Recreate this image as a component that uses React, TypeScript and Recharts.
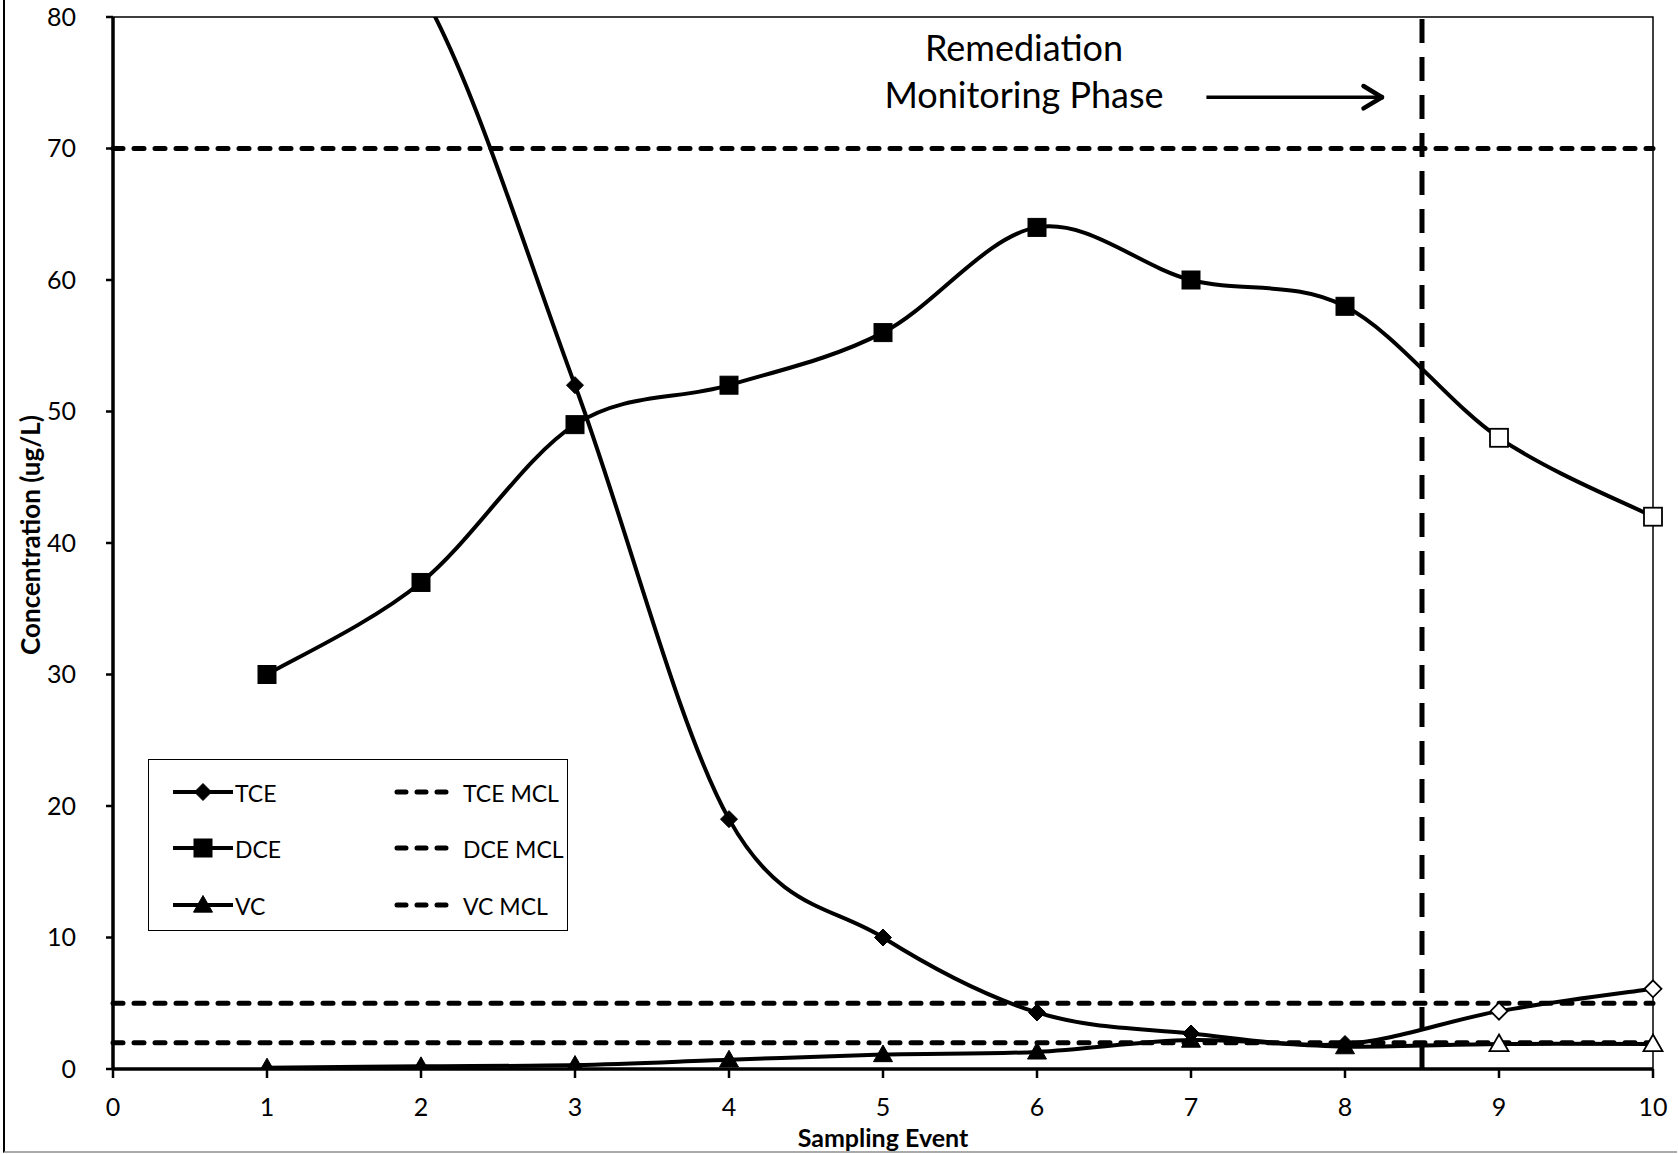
import { LineChart, Line, XAxis, YAxis, ReferenceLine, ReferenceArea, Legend, Label } from 'recharts';

// sampling events and measured concentrations (ug/L)
const events = [1, 2, 3, 4, 5, 6, 7, 8, 9, 10];
const tce = [92, 82, 52, 19, 10, 4.3, 2.7, 1.9, 4.4, 6.1];
const dce = [30, 37, 49, 52, 56, 64, 60, 58, 48, 42];
const vc = [0.1, 0.2, 0.3, 0.7, 1.1, 1.3, 2.2, 1.7, 1.9, 1.9];

const seriesNames = ['TCE', 'DCE', 'VC'];
const mclNames = ['TCE MCL', 'DCE MCL', 'VC MCL'];
const mclValues = [5, 70, 2];

const xTicks = [0, 1, 2, 3, 4, 5, 6, 7, 8, 9, 10];
const yTicks = [0, 10, 20, 30, 40, 50, 60, 70, 80];

// monitoring phase starts between event 8 and 9, markers after it are open
const monitoringStart = 8.5;
const firstMonitoringEvent = 9;
const arrowFrom = { x: 7.1, y: 73.9 };
const arrowTo = { x: 8.24, y: 73.9 };

const data = events.map((event, i) => ({ event, TCE: tce[i], DCE: dce[i], VC: vc[i] }));

const FONT = 'Lato, "Open Sans", sans-serif';
type Kind = 'diamond' | 'square' | 'triangle';
const kinds: Kind[] = ['diamond', 'square', 'triangle'];

// Excel style smoothing (uniform Catmull-Rom as bezier segments)
function excelSmooth(context: any) {
	let pts: number[][] = [];
	return {
		areaStart() {},
		areaEnd() {},
		lineStart() {
			pts = [];
		},
		point(x: number, y: number) {
			pts.push([+x, +y]);
		},
		lineEnd() {
			if (!pts.length) return;
			context.moveTo(pts[0][0], pts[0][1]);
			for (let i = 0; i < pts.length - 1; i++) {
				const p0 = pts[i - 1] ?? pts[i];
				const p1 = pts[i];
				const p2 = pts[i + 1];
				const p3 = pts[i + 2] ?? p2;
				context.bezierCurveTo(
					p1[0] + (p2[0] - p0[0]) / 6,
					p1[1] + (p2[1] - p0[1]) / 6,
					p2[0] - (p3[0] - p1[0]) / 6,
					p2[1] - (p3[1] - p1[1]) / 6,
					p2[0],
					p2[1]
				);
			}
		},
	};
}

function Marker({ kind, x, y, open }: { kind: Kind; x: number; y: number; open?: boolean }) {
	const fill = open ? '#fff' : '#000';
	const sw = open ? 1.8 : 1;
	if (kind === 'diamond') {
		const r = 8.5;
		return <polygon points={`${x},${y - r} ${x + r},${y} ${x},${y + r} ${x - r},${y}`} fill={fill} stroke='#000' strokeWidth={sw} />;
	}
	if (kind === 'square') {
		const h = 9;
		return <rect x={x - h} y={y - h} width={h * 2} height={h * 2} fill={fill} stroke='#000' strokeWidth={sw} />;
	}
	const s = 9.5;
	return <polygon points={`${x},${y - s} ${x + s},${y + s * 0.75} ${x - s},${y + s * 0.75}`} fill={fill} stroke='#000' strokeWidth={sw} />;
}

const makeDot = (kind: Kind) => (props: any) => {
	const { cx, cy, index, payload } = props;
	if (cx == null || cy == null || cy < 0) return <g key={`d-${kind}-${index}`} />;
	return (
		<g key={`d-${kind}-${index}`}>
			<Marker kind={kind} x={cx} y={cy} open={payload.event >= firstMonitoringEvent} />
		</g>
	);
};

function ChartLegend() {
	const rowY = [32, 88, 145];
	return (
		<div style={{ width: 420, height: 172, border: '1.5px solid #000', background: '#fff', boxSizing: 'border-box', position: 'relative' }}>
			<svg width={420} height={172} style={{ position: 'absolute', left: 0, top: 0 }}>
				{seriesNames.map((name, i) => (
					<g key={name}>
						<line x1={24} x2={84} y1={rowY[i]} y2={rowY[i]} stroke='#000' strokeWidth={4} />
						<Marker kind={kinds[i]} x={54} y={rowY[i]} />
						<text x={86} y={rowY[i] + 1} dominantBaseline='central' fontFamily={FONT} fontSize={23} fill='#000'>
							{name}
						</text>
					</g>
				))}
				{mclNames.map((name, i) => (
					<g key={name}>
						<line x1={248} x2={304} y1={rowY[i]} y2={rowY[i]} stroke='#000' strokeWidth={5} strokeDasharray='9 11' strokeLinecap='round' />
						<text x={314} y={rowY[i] + 1} dominantBaseline='central' fontFamily={FONT} fontSize={23} fill='#000'>
							{name}
						</text>
					</g>
				))}
			</svg>
		</div>
	);
}

export default function App() {
	return (
		<div style={{ position: 'absolute', left: 0, top: 0, width: 1678, height: 1154, background: '#fff' }}>
			<div style={{ position: 'absolute', left: 3, top: 0, width: 1672, height: 1151, borderLeft: '2px solid #000', borderBottom: '2px solid #aaa' }} />
			<LineChart width={1678} height={1154} data={data} margin={{ top: 17, right: 25, left: 0, bottom: 0 }}>
				<XAxis
					dataKey='event'
					type='number'
					domain={[0, 10]}
					ticks={xTicks}
					height={85}
					axisLine={{ stroke: '#000', strokeWidth: 3.5 }}
					tickLine={{ stroke: '#000', strokeWidth: 2.5 }}
					tickSize={9}
					tickMargin={20}
					tick={{ fontSize: 25, fill: '#000', fontFamily: FONT }}>
					<Label
						content={({ viewBox }: any) => (
							<text x={viewBox.x + viewBox.width / 2} y={1137} textAnchor='middle' dominantBaseline='central' fontFamily={FONT} fontWeight='bold' fontSize={25} fill='#000'>
								Sampling Event
							</text>
						)}
					/>
				</XAxis>
				<YAxis
					type='number'
					domain={[0, 80]}
					ticks={yTicks}
					allowDataOverflow
					width={113}
					axisLine={{ stroke: '#000', strokeWidth: 3.5 }}
					tickLine={{ stroke: '#000', strokeWidth: 2.5 }}
					tickSize={7}
					tickMargin={30}
					tick={{ fontSize: 25, fill: '#000', fontFamily: FONT }}>
					<Label
						content={({ viewBox }: any) => {
							const cy = viewBox.y + viewBox.height / 2 - 8;
							return (
								<text x={30} y={cy} transform={`rotate(-90 30 ${cy})`} textAnchor='middle' dominantBaseline='central' fontFamily={FONT} fontWeight='bold' fontSize={26} fill='#000'>
									Concentration (ug/L)
								</text>
							);
						}}
					/>
				</YAxis>
				<ReferenceArea x1={0} x2={10} y1={0} y2={80} fill='none' stroke='#000' strokeWidth={1.5} />
				{mclValues.map((v, i) => (
					<ReferenceLine key={mclNames[i]} y={v} stroke='#000' strokeWidth={5} strokeDasharray='10 11' strokeLinecap='round' />
				))}
				<ReferenceLine x={monitoringStart} stroke='#000' strokeWidth={5} strokeDasharray='24 14' />
				<ReferenceLine segment={[arrowFrom, arrowTo]} stroke='#000' strokeWidth={3.5} />
				<ReferenceLine segment={[{ x: arrowTo.x - 0.12, y: arrowTo.y + 0.85 }, arrowTo]} stroke='#000' strokeWidth={4.5} strokeLinecap='round' />
				<ReferenceLine segment={[{ x: arrowTo.x - 0.12, y: arrowTo.y - 0.85 }, arrowTo]} stroke='#000' strokeWidth={4.5} strokeLinecap='round' />
				{seriesNames.map((name, i) => (
					<Line
						key={name}
						dataKey={name}
						type={excelSmooth as any}
						stroke='#000'
						strokeWidth={4}
						dot={makeDot(kinds[i])}
						activeDot={false}
						isAnimationActive={false}
					/>
				))}
				<Legend layout='vertical' align='center' verticalAlign='middle' wrapperStyle={{ left: 148, top: 759, width: 420, height: 172 }} content={() => <ChartLegend />} />
			</LineChart>
			<div style={{ position: 'absolute', left: 824, top: 24, width: 400, textAlign: 'center', fontFamily: FONT, fontSize: 36, lineHeight: '47px', color: '#000' }}>
				Remediation
				<br />
				Monitoring Phase
			</div>
		</div>
	);
}
